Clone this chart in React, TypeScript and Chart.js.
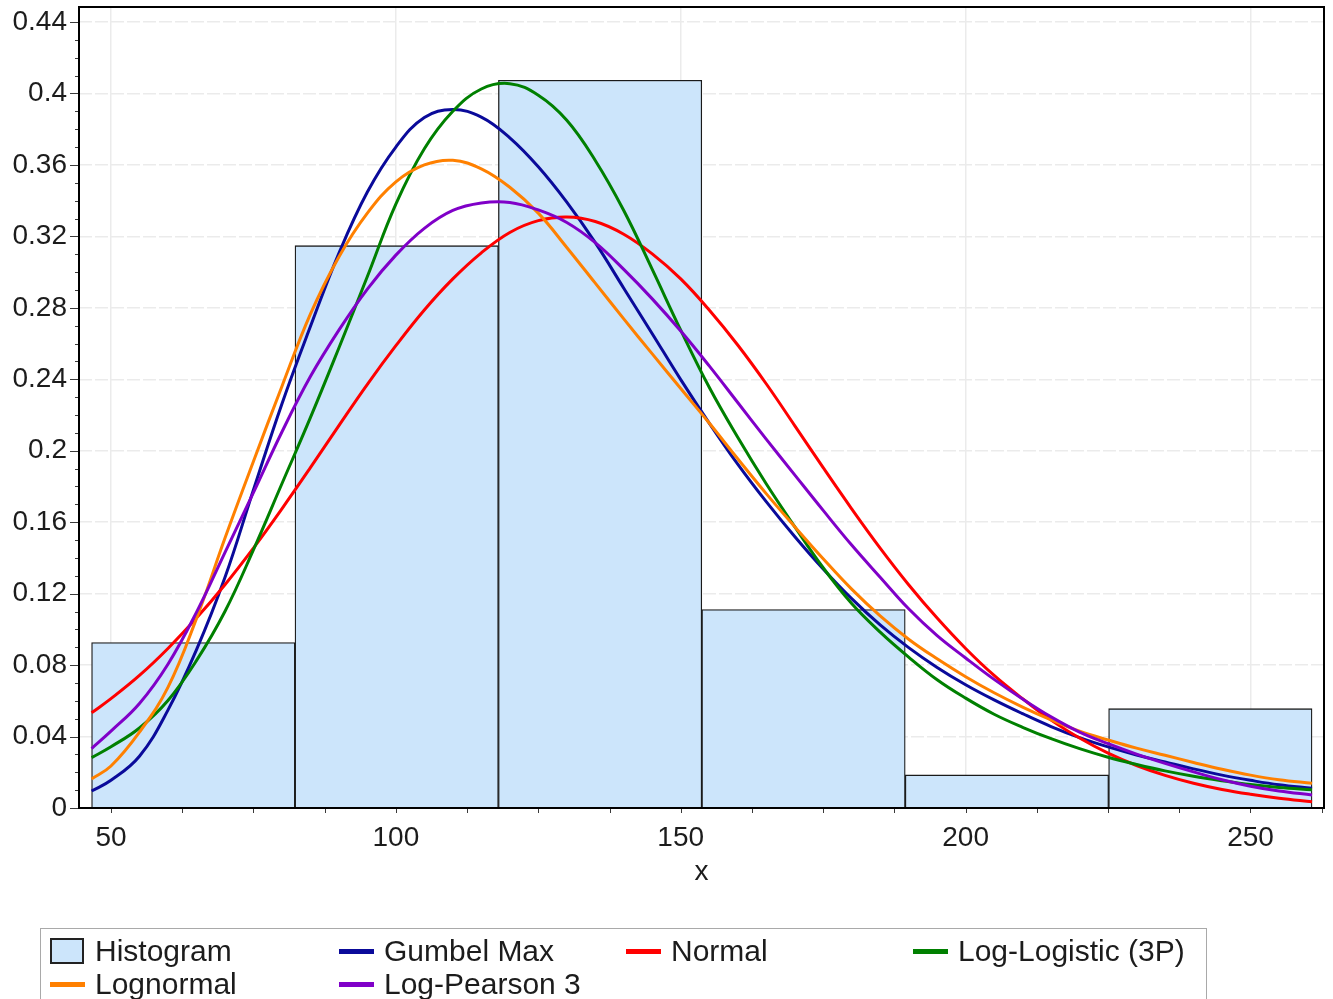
import React, { useEffect, useRef } from 'react';
import { Chart, registerables } from 'chart.js';

Chart.register(...registerables);

// ---------- data ----------
const binCenters = [64.45, 100.15, 135.85, 171.55, 207.25, 242.95];
const binFreq = [0.0926, 0.3148, 0.4074, 0.1111, 0.0185, 0.0556];

const xTickValues = [50, 100, 150, 200, 250];
const xMinorTicks = [50, 62.5, 75, 87.5, 100, 112.5, 125, 137.5, 150, 162.5, 175, 187.5, 200, 212.5, 225, 237.5, 250, 262.5];
const yTickValues = [0, 0.04, 0.08, 0.12, 0.16, 0.2, 0.24, 0.28, 0.32, 0.36, 0.4, 0.44];

const curveX = [46.6, 50, 55, 60, 65, 70, 75, 80, 85, 90, 95, 100, 105, 110, 115, 120, 125, 130, 135, 140, 145, 150, 155, 160, 165, 170, 175, 180, 185, 190, 195, 200, 205, 210, 215, 220, 225, 230, 235, 240, 245, 250, 255, 260.8];

const gumbelY = [0.0095, 0.0155, 0.029, 0.0548, 0.0885, 0.129, 0.178, 0.2262, 0.2695, 0.3105, 0.3448, 0.37, 0.3865, 0.391, 0.3868, 0.3752, 0.359, 0.3392, 0.3165, 0.291, 0.2655, 0.2398, 0.2155, 0.1925, 0.1715, 0.152, 0.1338, 0.1172, 0.1025, 0.0898, 0.0787, 0.069, 0.0605, 0.0528, 0.0456, 0.0394, 0.0342, 0.0297, 0.0258, 0.0219, 0.0184, 0.0155, 0.013, 0.011];
const normalY = [0.0533, 0.0612, 0.0742, 0.0893, 0.1063, 0.125, 0.1455, 0.1675, 0.1905, 0.2141, 0.2372, 0.2588, 0.2788, 0.2962, 0.3108, 0.3222, 0.3288, 0.3308, 0.3283, 0.3212, 0.3102, 0.2962, 0.2788, 0.2592, 0.2375, 0.2141, 0.1905, 0.1675, 0.1455, 0.125, 0.1063, 0.0893, 0.0742, 0.0612, 0.0492, 0.0392, 0.0307, 0.0238, 0.0183, 0.0139, 0.0104, 0.0077, 0.0055, 0.0035];
const logLogisticY = [0.0282, 0.0343, 0.0448, 0.0602, 0.0825, 0.11, 0.1445, 0.1815, 0.2185, 0.2575, 0.2975, 0.338, 0.369, 0.39, 0.4025, 0.4055, 0.399, 0.385, 0.3625, 0.3345, 0.3015, 0.2675, 0.2355, 0.2075, 0.1815, 0.1575, 0.1345, 0.1145, 0.0985, 0.0845, 0.0718, 0.0615, 0.0525, 0.0452, 0.0388, 0.0332, 0.0284, 0.0244, 0.0208, 0.0178, 0.0153, 0.0131, 0.0115, 0.0102];
const lognormalY = [0.0163, 0.0235, 0.0425, 0.0675, 0.106, 0.151, 0.194, 0.236, 0.2765, 0.3085, 0.333, 0.3505, 0.36, 0.3626, 0.3578, 0.3475, 0.333, 0.3138, 0.2938, 0.2738, 0.2542, 0.2348, 0.2155, 0.1955, 0.176, 0.1575, 0.1395, 0.1225, 0.1075, 0.0945, 0.0835, 0.0735, 0.0645, 0.0565, 0.0493, 0.043, 0.0381, 0.0335, 0.0295, 0.0255, 0.0217, 0.0184, 0.0158, 0.0138];
const logPearsonY = [0.0333, 0.043, 0.0585, 0.0805, 0.1095, 0.143, 0.1765, 0.2105, 0.2415, 0.2675, 0.2905, 0.3095, 0.3245, 0.3345, 0.3387, 0.339, 0.3348, 0.3278, 0.3165, 0.3015, 0.285, 0.267, 0.2475, 0.227, 0.2065, 0.1865, 0.1666, 0.1472, 0.1292, 0.1115, 0.0965, 0.084, 0.072, 0.061, 0.051, 0.0425, 0.036, 0.0302, 0.025, 0.0202, 0.0158, 0.0122, 0.0095, 0.0073];

const FONT = "'Liberation Sans', Arial, sans-serif";
const TEXT = '#1c1c1c';

const zip = (xs: number[], ys: number[]) => xs.map((x, i) => ({ x, y: ys[i] }));

const framePlugin = {
  id: 'frameAndMinorTicks',
  afterDraw(chart: any) {
    const { ctx, chartArea: a, scales } = chart;
    const xs = scales.x;
    const ys = scales.y;
    ctx.save();
    ctx.strokeStyle = '#3a3a3a';
    ctx.lineWidth = 1;
    ctx.beginPath();
    for (const v of xMinorTicks) {
      const px = Math.round(xs.getPixelForValue(v)) + 0.5;
      if (px < a.left || px > a.right) continue;
      ctx.moveTo(px, a.bottom);
      ctx.lineTo(px, a.bottom + 5);
    }
    const yMinor: number[] = Array.from({ length: 45 }, (_, i) => i / 100);
    for (const v of yMinor) {
      const py = Math.round(ys.getPixelForValue(v)) + 0.5;
      const isMajor = Math.abs(v * 25 - Math.round(v * 25)) < 1e-6;
      ctx.moveTo(a.left, py);
      ctx.lineTo(a.left - (isMajor ? 9 : 4), py);
    }
    ctx.stroke();
    ctx.strokeStyle = '#000';
    ctx.lineWidth = 2;
    ctx.strokeRect(a.left, a.top, a.right - a.left, a.bottom - a.top);
    ctx.restore();
  },
};

function ChartCanvas() {
  const ref = useRef<HTMLCanvasElement | null>(null);
  useEffect(() => {
    if (!ref.current) return;
    const lineDs = (label: string, ys: number[], color: string, order: number) => ({
      type: 'line' as const,
      label,
      data: zip(curveX, ys),
      borderColor: color,
      backgroundColor: color,
      borderWidth: 3,
      pointRadius: 0,
      fill: false,
      tension: 0.4,
      order,
    });
    const chart = new Chart(ref.current, {
      type: 'bar',
      data: {
        datasets: [
          {
            type: 'bar',
            label: 'Histogram',
            data: zip(binCenters, binFreq),
            backgroundColor: '#cce5fb',
            borderColor: '#1a1a1a',
            borderWidth: 1.3,
            barPercentage: 1,
            categoryPercentage: 1,
            order: 10,
          } as any,
          lineDs('Gumbel Max', gumbelY, '#0a0a9a', 5),
          lineDs('Normal', normalY, '#ff0000', 4),
          lineDs('Log-Logistic (3P)', logLogisticY, '#008000', 3),
          lineDs('Lognormal', lognormalY, '#ff8000', 2),
          lineDs('Log-Pearson 3', logPearsonY, '#8000c8', 1),
        ],
      },
      options: {
        responsive: false,
        animation: false,
        devicePixelRatio: 1,
        layout: { padding: { left: 0, top: 7, right: 9, bottom: 0 } },
        plugins: { legend: { display: false }, tooltip: { enabled: false } },
        scales: {
          x: {
            type: 'linear',
            offset: false,
            min: 44.39,
            max: 262.9,
            afterBuildTicks: (s: any) => {
              s.ticks = xTickValues.map((v) => ({ value: v }));
            },
            afterFit: (s: any) => {
              s.height = 191;
              s.paddingLeft = 0;
              s.paddingRight = 0;
            },
            grid: { offset: false, color: '#ebebeb', lineWidth: 1.5, drawTicks: true, tickLength: 5, tickColor: 'rgba(0,0,0,0)' },
            border: { display: false },
            ticks: { font: { family: FONT, size: 28 }, color: TEXT, padding: 8, maxRotation: 0, autoSkip: false, callback: (v: any) => String(v) },
            title: { display: true, text: 'x', font: { family: FONT, size: 28 }, color: TEXT, padding: { top: 0, bottom: 110 } },
          },
          y: {
            type: 'linear',
            min: 0,
            max: 0.4484,
            afterBuildTicks: (s: any) => {
              s.ticks = yTickValues.map((v) => ({ value: v }));
            },
            afterFit: (s: any) => {
              s.width = 79;
              s.paddingTop = 0;
              s.paddingBottom = 0;
            },
            grid: { color: '#ebebeb', lineWidth: 1.5, drawTicks: true, tickLength: 9, tickColor: 'rgba(0,0,0,0)' },
            border: { display: false, dash: [13, 3] },
            ticks: {
              font: { family: FONT, size: 28 },
              color: TEXT,
              padding: 3,
              callback: (v: any) => String(Number(Number(v).toFixed(2))),
            },
          },
        },
      } as any,
      plugins: [framePlugin],
    });
    return () => chart.destroy();
  }, []);
  return <canvas ref={ref} width={1333} height={999} style={{ display: 'block', position: 'absolute', left: 0, top: 0 }} />;
}

type LegendItem = { label: string; color: string; kind: 'box' | 'line'; x: number; row: number };
const legendItems: LegendItem[] = [
  { label: 'Histogram', color: '#cce5fb', kind: 'box', x: 50, row: 0 },
  { label: 'Gumbel Max', color: '#0a0a9a', kind: 'line', x: 339, row: 0 },
  { label: 'Normal', color: '#ff0000', kind: 'line', x: 626, row: 0 },
  { label: 'Log-Logistic (3P)', color: '#008000', kind: 'line', x: 913, row: 0 },
  { label: 'Lognormal', color: '#ff8000', kind: 'line', x: 50, row: 1 },
  { label: 'Log-Pearson 3', color: '#8000c8', kind: 'line', x: 339, row: 1 },
];

function Legend() {
  const rowCenter = [951, 984];
  return (
    <>
      <div
        style={{
          position: 'absolute',
          left: 40,
          top: 928,
          width: 1167,
          height: 90,
          border: '1.5px solid #a9a9a9',
          boxSizing: 'border-box',
        }}
      />
      {legendItems.map((it) => {
        const cy = rowCenter[it.row];
        return (
          <React.Fragment key={it.label}>
            {it.kind === 'box' ? (
              <div
                style={{
                  position: 'absolute',
                  left: it.x,
                  top: cy - 13,
                  width: 34,
                  height: 26,
                  background: it.color,
                  border: '2px solid #222',
                  boxSizing: 'border-box',
                }}
              />
            ) : (
              <div style={{ position: 'absolute', left: it.x, top: cy - 2.5, width: 35, height: 5, background: it.color }} />
            )}
            <div
              style={{
                position: 'absolute',
                left: it.x + 45,
                top: cy - 17,
                height: 34,
                lineHeight: '34px',
                fontFamily: FONT,
                fontSize: 30,
                color: TEXT,
                whiteSpace: 'nowrap',
              }}
            >
              {it.label}
            </div>
          </React.Fragment>
        );
      })}
    </>
  );
}

export default function App() {
  return (
    <div style={{ position: 'fixed', left: 0, top: 0, width: 1333, height: 999, overflow: 'hidden', background: '#fff' }}>
      <ChartCanvas />
      <Legend />
    </div>
  );
}
